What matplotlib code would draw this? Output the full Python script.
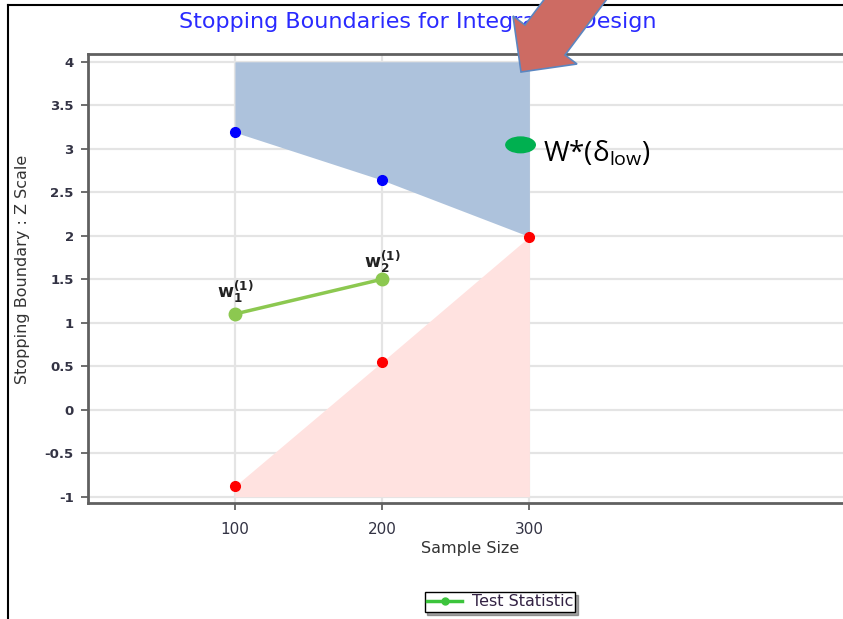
import numpy as np
import matplotlib
matplotlib.use("Agg")
import matplotlib.pyplot as plt
from matplotlib.patches import Ellipse, Polygon
from matplotlib.lines import Line2D

# ---- data ----
looks = [100, 200, 300]
upper_bound = [3.19, 2.64, 1.99]
lower_bound = [-0.88, 0.55, 1.99]
stat_x = [100, 200]
stat_y = [1.10, 1.50]
yticks = [-1, -0.5, 0, 0.5, 1, 1.5, 2, 2.5, 3, 3.5, 4]
ytick_labels = ["-1", "-0.5", "0", "0.5", "1", "1.5", "2", "2.5", "3", "3.5", "4"]
xticks = [100, 200, 300]
w_star = (294, 3.045)

W, H = 843, 619
fig = plt.figure(figsize=(W / 100, H / 100), dpi=100)
fig.patch.set_facecolor("white")

def px(x, y):
    return x / W, 1 - y / H

ax_l, ax_t, ax_b = 87.7, 54, 502.7
ax = fig.add_axes([ax_l / W, 1 - ax_b / H, (W - ax_l) / W, (ax_b - ax_t) / H])
ax.set_xlim(0, 513)
ax.set_ylim(-1.07, 4.09)

ax.set_yticks(yticks)
ax.set_yticklabels(ytick_labels)
ax.set_xticks(xticks)
ax.grid(True, color="#e4e4e4", lw=1.6, zorder=0)
ax.set_axisbelow(True)

for s in ["left", "bottom", "top"]:
    ax.spines[s].set_color("#606060")
    ax.spines[s].set_linewidth(2)
ax.spines["right"].set_visible(False)
ax.tick_params(axis="both", direction="out", length=5, width=1.2, color="#555555",
               labelcolor="#333344")
ax.tick_params(axis="x", pad=9)
ax.tick_params(axis="y", pad=5)
for lab in ax.get_yticklabels():
    lab.set_fontweight("bold")
    lab.set_fontsize(9.5)
for lab in ax.get_xticklabels():
    lab.set_fontsize(11)

# regions
ax.fill_between(looks, upper_bound, 4, color="#adc2dc", lw=0, zorder=1)
ax.fill_between(looks, -1, lower_bound, color="#ffe2e0", lw=0, zorder=1)

ax.plot(looks[:2], upper_bound[:2], "o", color="#0000ff", ms=7, zorder=4)
ax.plot(looks, lower_bound, "o", color="#ff0000", ms=7, zorder=4)
ax.plot(stat_x, stat_y, "-o", color="#8cc850", lw=2.5, ms=9, zorder=5)

ax.text(100, 1.36, r"$\mathbf{w}_{\mathbf{1}}^{\mathbf{(1)}}$", ha="center", va="center",
        fontsize=12.5, color="#222222", zorder=6)
ax.text(200, 1.70, r"$\mathbf{w}_{\mathbf{2}}^{\mathbf{(1)}}$", ha="center", va="center",
        fontsize=12.5, color="#222222", zorder=6)

ax.set_xlabel("Sample Size", fontsize=11.5, color="#333333")
ax.xaxis.set_label_coords((470 - ax_l) / (W - ax_l), -(541 - ax_b) / (ax_b - ax_t))
ax.set_ylabel("Stopping Boundary : Z Scale", fontsize=11.5, color="#333333")
ax.yaxis.set_label_coords(-(ax_l - 30) / (W - ax_l), (ax_b - 269) / (ax_b - ax_t))

# title
fig.text(*px(418, 22), "Stopping Boundaries for Integrated Design", ha="center", va="center",
         fontsize=16, color="#2a2aff", family="DejaVu Sans")

# W* marker + label
ax.add_patch(Ellipse(w_star, 20, 0.18, color="#00b050", zorder=7, clip_on=False))
ax.text(309.5, 2.95, r"W*(δ$_{\mathregular{low}}$)", fontsize=20, color="black",
        ha="left", va="center", family="Open Sans", zorder=7)

# legend
handle = Line2D([], [], color="#3cc43c", lw=2.5, marker="o", ms=5)
leg = fig.legend([handle], ["Test Statistic"], loc="center", bbox_to_anchor=px(500, 602),
                 fontsize=11.5, frameon=True, fancybox=False, shadow=True, handlelength=2.2,
                 borderpad=0.15, handletextpad=0.6, borderaxespad=0)
leg.get_frame().set_edgecolor("black")
leg.get_frame().set_linewidth(1.0)
for t in leg.get_texts():
    t.set_color("#332244")

# outer frame
fig.add_artist(Line2D([7.5 / W, 7.5 / W], [0, 1 - 5 / H], color="black", lw=1.5))
fig.add_artist(Line2D([7.5 / W, 1], [1 - 5 / H, 1 - 5 / H], color="black", lw=1.5))

# arrow (annotation overlay)
T = np.array([521.0, 72.0])
d = np.array([-0.6, 0.8]); d /= np.linalg.norm(d)
p = np.array([d[1], -d[0]])
Lh, Wh, Ws, L = 40, 40, 25, 220
pts = [T, T - Lh * d + Wh * p, T - Lh * d + Ws * p, T - L * d + Ws * p,
       T - L * d - Ws * p, T - Lh * d - Ws * p, T - Lh * d - Wh * p]
pts = [px(*q) for q in pts]
fig.add_artist(Polygon(pts, closed=True, facecolor="#cd6b63", edgecolor="#5b86c0",
                       lw=1.2, transform=fig.transFigure, zorder=20))

fig.savefig("out.png", dpi=100)
